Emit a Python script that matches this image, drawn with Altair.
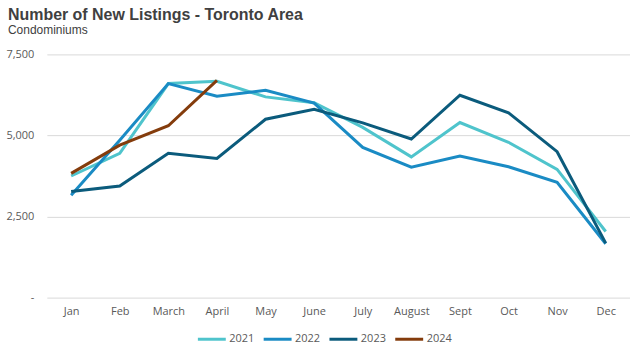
import altair as alt
import pandas as pd

months = ["Jan", "Feb", "March", "April", "May", "June", "July", "August", "Sept", "Oct", "Nov", "Dec"]
y2021 = [3750, 4450, 6600, 6670, 6190, 6010, 5250, 4340, 5400, 4790, 3955, 2040]
y2022 = [3155, 4850, 6600, 6210, 6390, 6000, 4630, 4025, 4365, 4035, 3555, 1660]
y2023 = [3270, 3440, 4450, 4290, 5500, 5810, 5390, 4890, 6240, 5700, 4500, 1680]
y2024 = [3830, 4700, 5300, 6700]
years = ["2021", "2022", "2023", "2024"]
colors = ["#4FC4CC", "#1A8BC4", "#0B5B7C", "#843C0C"]

rows = []
for yr, vals in zip(years, [y2021, y2022, y2023, y2024]):
    for m, v in zip(months, vals):
        rows.append({"Month": m, "Year": yr, "Listings": v})
df = pd.DataFrame(rows)

font = "Open Sans"
chart = alt.Chart(df).mark_line(strokeWidth=3).encode(
    x=alt.X("Month:N", sort=months,
            scale=alt.Scale(type="point", padding=0.5),
            axis=alt.Axis(title=None, domain=False, ticks=False, labelAngle=0,
                          labelPadding=8, labelFont=font, labelFontSize=11,
                          labelColor="#595959")),
    y=alt.Y("Listings:Q", scale=alt.Scale(domain=[0, 7500], nice=False),
            axis=alt.Axis(title=None, values=[0, 2500, 5000, 7500], domain=False, ticks=False,
                          labelExpr="datum.value == 0 ? '-' : format(datum.value, ',')",
                          labelPadding=13, labelFont=font, labelFontSize=11,
                          labelColor="#595959", gridColor="#d9d9d9")),
    color=alt.Color("Year:N", scale=alt.Scale(domain=years, range=colors),
                    legend=alt.Legend(title=None, orient="none", direction="horizontal",
                                      legendX=150, legendY=270,
                                      symbolType="stroke", symbolSize=784,
                                      symbolStrokeWidth=3, labelFont=font,
                                      labelFontSize=11, labelColor="#595959",
                                      labelOffset=2, columnPadding=2)),
).properties(
    width=585, height=244,
    title=alt.TitleParams(
        text="Number of New Listings - Toronto Area",
        subtitle="Condominiums",
        anchor="start", frame="group", dx=-39, offset=12,
        font="Liberation Sans", fontSize=16, fontWeight="bold", color="#404040",
        subtitleFont="Liberation Sans", subtitleFontSize=12, subtitleColor="#404040",
        subtitlePadding=2,
    ),
    autosize=alt.AutoSizeParams(type="none"),
    padding={"left": 47, "top": 54, "right": 0, "bottom": 56},
).configure_view(stroke=None)

chart.save("out.html", embed_options={"renderer": "svg", "actions": False})
